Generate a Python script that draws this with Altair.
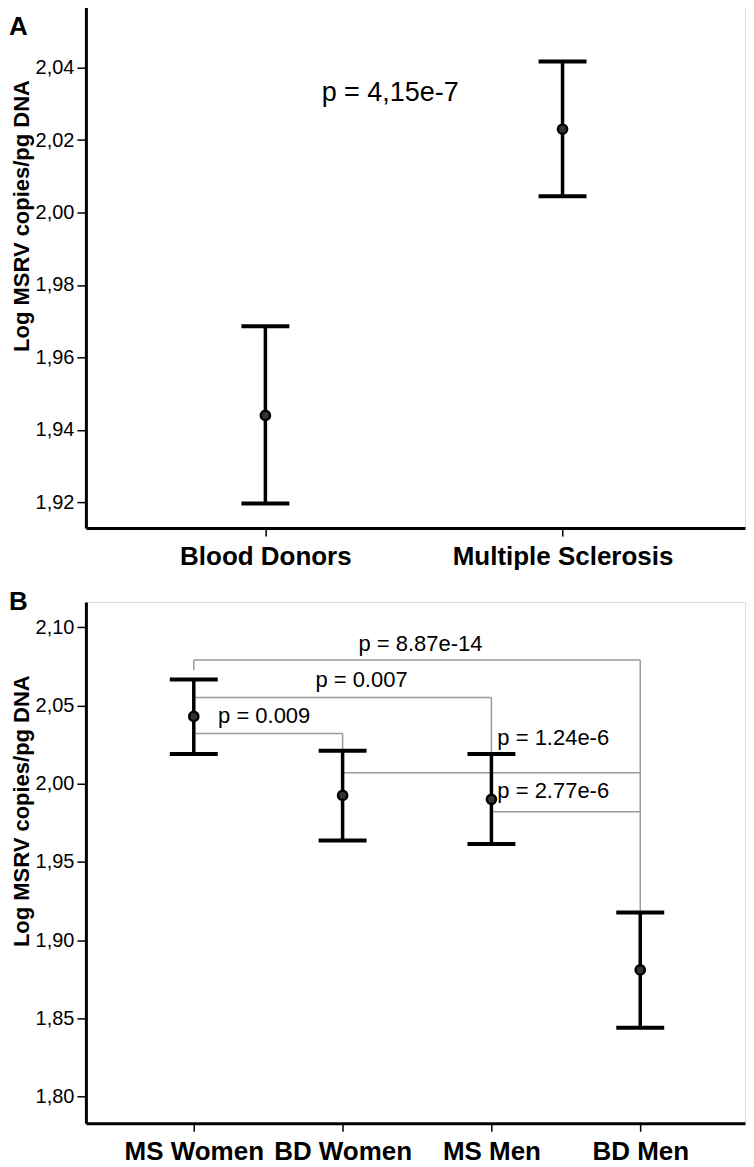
import altair as alt
import pandas as pd

# ---------------- Panel A data ----------------
A_groups = ["Blood Donors", "Multiple Sclerosis"]
A_mean = [1.944, 2.023]
A_lower = [1.9197, 2.0045]
A_upper = [1.9686, 2.0417]
A_ticks = [1.92, 1.94, 1.96, 1.98, 2.00, 2.02, 2.04]
A_p_text = ["p = 4,15e-7"]
A_p_x = [1.42]
A_p_y = [2.033]

# ---------------- Panel B data ----------------
B_groups = ["MS Women", "BD Women", "MS Men", "BD Men"]
B_mean = [2.043, 1.9925, 1.990, 1.881]
B_lower = [2.019, 1.9637, 1.9614, 1.844]
B_upper = [2.0666, 2.021, 2.019, 1.9177]
B_ticks = [1.80, 1.85, 1.90, 1.95, 2.00, 2.05, 2.10]

# comparison brackets (horizontal part)
br_from = ["MS Women", "MS Women", "MS Women", "BD Women", "MS Men"]
br_to = ["BD Men", "MS Men", "BD Women", "BD Men", "BD Men"]
br_level = [2.079, 2.055, 2.032, 2.007, 1.982]
# bracket drops (vertical part)
drop_group = ["MS Women", "BD Women", "MS Men", "BD Men"]
drop_top = [2.079, 2.032, 2.055, 2.079]
drop_bottom = [2.0726, 2.021, 2.019, 1.9177]
# p-value labels
p_text = ["p = 8.87e-14", "p = 0.007", "p = 0.009", "p = 1.24e-6", "p = 2.77e-6"]
p_x = [2.523, 2.127, 1.473, 3.04, 3.04]
p_y = [2.0893, 2.066, 2.043, 2.0292, 1.9952]
p_align = ["center", "center", "center", "left", "left"]

FONT = "Liberation Sans"
GRAY = "#9a9a9a"
W = 660
H = 522


def y_axis(values):
    return alt.Axis(
        values=values,
        labelExpr="replace(format(datum.value, '.2f'), '.', ',')",
        title="Log MSRV copies/pg DNA",
        titleFont=FONT, titleFontSize=22, titleFontWeight="bold", titleColor="black",
        titleAngle=-90, titleAlign="center", titleBaseline="alphabetic",
        titleX=-57, titleY=209,
        labelFont=FONT, labelFontSize=20, labelColor="black", labelPadding=3,
        tickSize=9, tickWidth=1.5, tickColor="black",
        domainWidth=3, domainColor="black", grid=False,
    )


def x_axis(groups):
    arr = "[" + ",".join("'" + g + "'" for g in groups) + "]"
    return alt.Axis(
        values=list(range(1, len(groups) + 1)),
        labelExpr=arr + "[datum.value - 1]",
        title=None,
        labelFont=FONT, labelFontSize=26, labelFontWeight="bold", labelColor="black",
        labelPadding=7, labelAngle=0, labelLimit=500,
        tickSize=8, tickWidth=1.5, tickColor="black",
        domainWidth=3, domainColor="black", grid=False,
    )


def errorbar_layers(groups, mean, lower, upper, xdom, ydom, ticks):
    pos = list(range(1, len(groups) + 1))
    df = pd.DataFrame({"pos": pos, "group": groups, "mean": mean, "lower": lower, "upper": upper})
    caps = pd.DataFrame({"pos": pos * 2, "val": lower + upper})
    xs = alt.Scale(domain=xdom, nice=False, zero=False)
    ys = alt.Scale(domain=ydom, nice=False, zero=False)
    xa = x_axis(groups)
    ya = y_axis(ticks)
    rule = alt.Chart(df).mark_rule(color="black", strokeWidth=3.5).encode(
        x=alt.X("pos:Q", scale=xs, axis=xa),
        y=alt.Y("lower:Q", scale=ys, axis=ya),
        y2="upper:Q",
    )
    cap = alt.Chart(caps).mark_tick(color="black", orient="horizontal", size=48, thickness=4,
                                    opacity=1).encode(
        x=alt.X("pos:Q", scale=xs, axis=xa),
        y=alt.Y("val:Q", scale=ys, axis=ya),
    )
    pts = alt.Chart(df).mark_point(shape="circle", size=85, filled=True, color="#333333",
                                   stroke="black", strokeWidth=2.5, opacity=1).encode(
        x=alt.X("pos:Q", scale=xs, axis=xa),
        y=alt.Y("mean:Q", scale=ys, axis=ya),
    )
    return xs, ys, xa, ya, [rule, cap, pts]


def panel_letter(letter, yoff):
    return alt.Chart(pd.DataFrame({"t": [letter]})).mark_text(
        font=FONT, fontSize=26, fontWeight="bold", color="black", align="left", baseline="alphabetic"
    ).encode(text="t:N", x=alt.value(-77), y=alt.value(yoff))


# ---------------- Panel A ----------------
A_xdom = [0.396, 2.614]
A_ydom = [1.9129, 2.0568]
xsA, ysA, xaA, yaA, A_layers = errorbar_layers(A_groups, A_mean, A_lower, A_upper, A_xdom, A_ydom, A_ticks)
A_ptext = alt.Chart(pd.DataFrame({"t": A_p_text, "x": A_p_x, "y": A_p_y})).mark_text(
    font=FONT, fontSize=27, color="black", align="center", baseline="middle"
).encode(x=alt.X("x:Q", scale=xsA, axis=xaA), y=alt.Y("y:Q", scale=ysA, axis=yaA), text="t:N")
panelA = alt.layer(*A_layers, A_ptext, panel_letter("A", 28)).properties(width=W, height=H)

# ---------------- Panel B ----------------
B_xdom = [0.275, 4.704]
B_ydom = [1.783, 2.1161]
xsB, ysB, xaB, yaB, B_layers = errorbar_layers(B_groups, B_mean, B_lower, B_upper, B_xdom, B_ydom, B_ticks)
idx = {g: i + 1 for i, g in enumerate(B_groups)}
br_df = pd.DataFrame({
    "x1": [idx[g] for g in br_from], "x2": [idx[g] for g in br_to], "y": br_level,
})
drop_df = pd.DataFrame({"x": [idx[g] for g in drop_group], "top": drop_top, "bottom": drop_bottom})
p_df = pd.DataFrame({"t": p_text, "x": p_x, "y": p_y, "align": p_align})

br_h = alt.Chart(br_df).mark_rule(color=GRAY, strokeWidth=1.5).encode(
    x=alt.X("x1:Q", scale=xsB, axis=xaB), x2="x2:Q", y=alt.Y("y:Q", scale=ysB, axis=yaB)
)
br_v = alt.Chart(drop_df).mark_rule(color=GRAY, strokeWidth=1.5).encode(
    x=alt.X("x:Q", scale=xsB, axis=xaB), y=alt.Y("top:Q", scale=ysB, axis=yaB), y2="bottom:Q"
)
p_center = alt.Chart(p_df).transform_filter("datum.align == 'center'").mark_text(
    font=FONT, fontSize=22, color="black", align="center", baseline="middle"
).encode(x=alt.X("x:Q", scale=xsB, axis=xaB), y=alt.Y("y:Q", scale=ysB, axis=yaB), text="t:N")
p_left = alt.Chart(p_df).transform_filter("datum.align == 'left'").mark_text(
    font=FONT, fontSize=22, color="black", align="left", baseline="middle"
).encode(x=alt.X("x:Q", scale=xsB, axis=xaB), y=alt.Y("y:Q", scale=ysB, axis=yaB), text="t:N")

panelB = alt.layer(br_h, br_v, *B_layers, p_center, p_left, panel_letter("B", 8)).properties(width=W, height=H)

chart = alt.vconcat(panelA, panelB, spacing=74, bounds="flush").properties(
    padding={"left": 0, "top": -3, "right": 0, "bottom": 0}
).configure_view(stroke=None).configure(background="white")

chart.save("out.html", embed_options={"renderer": "svg", "actions": False})
